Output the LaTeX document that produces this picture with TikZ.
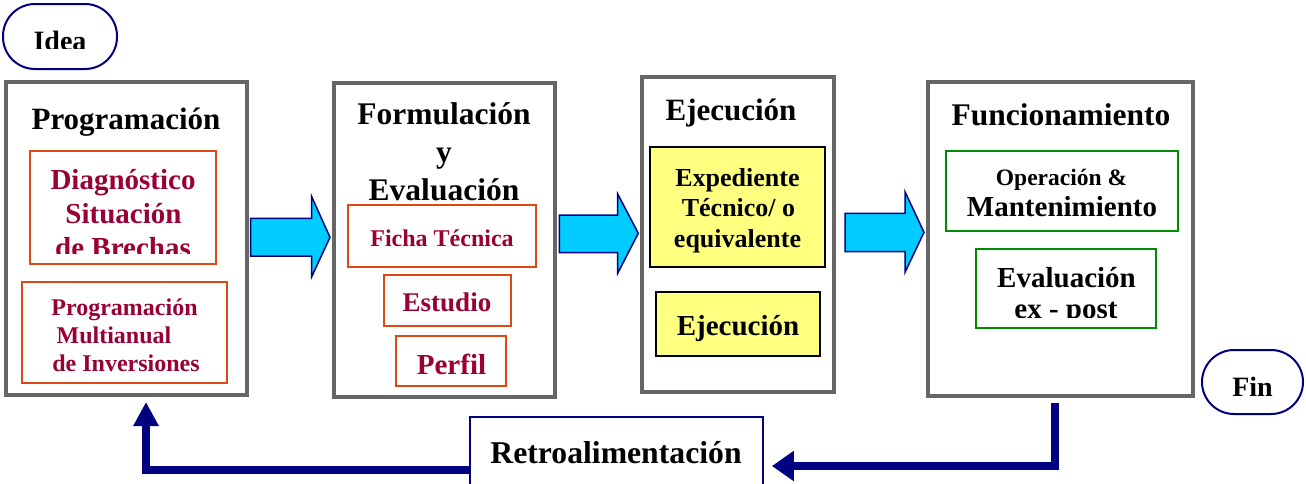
\documentclass[tikz,border=0pt]{standalone}
\usepackage{fontspec}
\setmainfont{Liberation Serif}
\usetikzlibrary{arrows.meta}
\definecolor{stagegray}{RGB}{102,102,102}
\definecolor{boxred}{RGB}{221,72,20}
\definecolor{txtred}{RGB}{153,0,51}
\definecolor{boxgreen}{RGB}{0,140,0}
\definecolor{boxyellow}{RGB}{255,255,128}
\definecolor{navyb}{RGB}{0,0,128}
\definecolor{cyanb}{RGB}{0,204,255}
\newcommand\fsz[1]{\fontsize{#1}{#1}\selectfont\bfseries}
\tikzset{
  stage/.style={draw=stagegray, line width=4pt, fill=white, inner sep=0},
  redbox/.style={draw=boxred, line width=2pt, inner sep=0},
  greenbox/.style={draw=boxgreen, line width=2pt, inner sep=0},
  yelbox/.style={draw=black, line width=1.8pt, fill=boxyellow, inner sep=0},
  term/.style={draw=navyb, line width=2pt, rounded corners=32pt, inner sep=0, fill=white},
  retrobox/.style={draw=navyb, line width=1.8pt, inner sep=0, fill=white},
  t/.style={anchor=base, inner sep=0},
  rt/.style={t, text=txtred},
  bigarrow/.style={draw=navyb, line width=1.5pt, fill=cyanb, line join=miter},
  fb/.style={draw=navyb, line width=7.5pt},
}
\begin{document}
\begin{tikzpicture}[x=1pt,y=-1pt]
\useasboundingbox (0,0) rectangle (1306,483);

% stages
\node[stage, minimum width=241pt, minimum height=313pt] (prog) at (126.5,238.5) {};
\node[stage, minimum width=221pt, minimum height=314pt] (form) at (444.5,240) {};
\node[stage, minimum width=192pt, minimum height=315pt] (ejec) at (738,234) {};
\node[stage, minimum width=265pt, minimum height=314.5pt] (func) at (1060.5,239) {};

% terminals
\node[term, minimum width=114pt, minimum height=65pt] (idea) at (60,36.5) {};
\begin{scope}
  \clip (0,0) rectangle (130,48.5);
  \node[t, font=\fsz{28}] (ideaT) at (60,50.8) {Idea};
\end{scope}
\node[term, minimum width=101pt, minimum height=64pt] (fin) at (1252.5,382) {};
\node[t, font=\fsz{28}] (finT) at (1252.5,396) {Fin};

% Programacion
\node[t, font=\fsz{31}] (progT) at (126,129) {Programación};
\node[redbox, minimum width=186pt, minimum height=113pt] (diag) at (123,207.5) {};
\node[rt, font=\fsz{29}] (diag1) at (123,189) {Diagnóstico};
\node[rt, font=\fsz{29}] (diag2) at (123.5,223) {Situación};
\begin{scope}
  \clip (30,230) rectangle (216,253.5);
  \node[rt, font=\fsz{29}] (diag3) at (123,257) {de Brechas};
\end{scope}
\node[redbox, minimum width=205pt, minimum height=101pt] (pmi) at (124.5,332.5) {};
\node[rt, font=\fsz{24}] (pmi1) at (124.5,315) {Programación};
\node[rt, font=\fsz{24}] (pmi2) at (114,343) {Multianual};
\node[rt, font=\fsz{24}] (pmi3) at (126,371) {de Inversiones};

% Formulacion
\node[t, font=\fsz{31.5}] (formT1) at (444,124) {Formulación};
\node[t, font=\fsz{31.5}] (formT2) at (444,162) {y};
\node[t, font=\fsz{31.5}] (formT3) at (444,200) {Evaluación};
\node[redbox, minimum width=188pt, minimum height=62pt] (ficha) at (442,236) {};
\node[rt, font=\fsz{24}] (fichaT) at (442,246) {Ficha Técnica};
\node[redbox, minimum width=127pt, minimum height=51pt] (estudio) at (447.5,300.5) {};
\node[rt, font=\fsz{27}] (estudioT) at (447,311) {Estudio};
\node[redbox, minimum width=110pt, minimum height=50pt] (perfil) at (451,361) {};
\node[rt, font=\fsz{29}] (perfilT) at (451.5,374) {Perfil};

% Ejecucion
\node[t, font=\fsz{31}] (ejecT) at (731,120) {Ejecución};
\node[yelbox, minimum width=175pt, minimum height=120pt] (exped) at (737.5,207) {};
\node[t, font=\fsz{26}] (exped1) at (737.5,186) {Expediente};
\node[t, font=\fsz{26}] (exped2) at (738.5,216.5) {Técnico/ o};
\node[t, font=\fsz{26}] (exped3) at (737.5,247) {equivalente};
\node[yelbox, minimum width=164pt, minimum height=64pt] (ejec2) at (738,324) {};
\node[t, font=\fsz{29}] (ejec2T) at (738,335) {Ejecución};

% Funcionamiento
\node[t, font=\fsz{31.5}] (funcT) at (1061,125) {Funcionamiento};
\node[greenbox, minimum width=232pt, minimum height=80pt] (oper) at (1062,191) {};
\node[t, font=\fsz{23.5}] (oper1) at (1061.5,185) {Operación \&};
\node[t, font=\fsz{29}] (oper2) at (1062,216) {Mantenimiento};
\node[greenbox, minimum width=180pt, minimum height=79pt] (evalp) at (1066,288.5) {};
\node[t, font=\fsz{29}] (evalp1) at (1066.5,287) {Evaluación};
\begin{scope}
  \clip (977,295) rectangle (1155,317.5);
  \node[t, font=\fsz{29}] (evalp2) at (1066,318.3) {ex - post};
\end{scope}

% stage arrows
\draw[bigarrow] (250.7,218.3) -- (311.7,218.3) -- (311.7,196.7) -- (330,237.3) -- (311.7,276.7) -- (311.7,256) -- (250.7,256) -- cycle;
\draw[bigarrow] (559.3,215) -- (617.7,215) -- (617.7,194) -- (638.3,233.3) -- (617.7,273.3) -- (617.7,252.7) -- (559.3,252.7) -- cycle;
\draw[bigarrow] (845,213.3) -- (905,213.3) -- (905,191.7) -- (924,232.3) -- (905,272.3) -- (905,251.7) -- (845,251.7) -- cycle;

% feedback
\node[retrobox, minimum width=293pt, minimum height=73pt] (retro) at (616.5,453.5) {};
\node[t, font=\fsz{31.7}] (retroT) at (616,463) {Retroalimentación};
\draw[fb, -{Triangle[length=22pt,width=29pt]}, shorten <=5pt, shorten >=8pt]
  ([xshift=-5.5pt]func.south) |- ([yshift=-12.5pt]retro.east);
\draw[fb, -{Triangle[length=24pt,width=24pt]}, shorten >=5pt]
  ([yshift=-16.5pt]retro.west) -| ([xshift=19.5pt]prog.south);
\end{tikzpicture}
\end{document}
